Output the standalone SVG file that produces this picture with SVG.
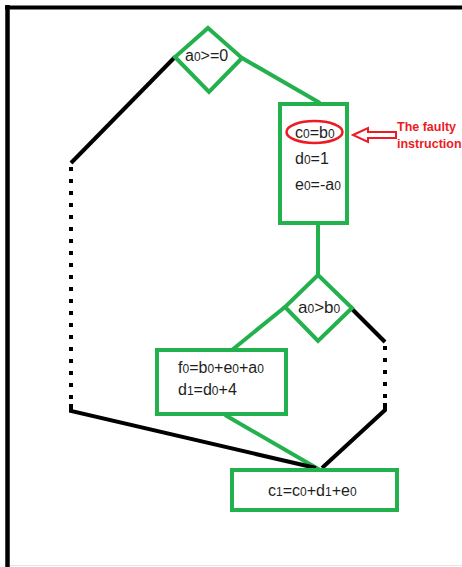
<svg xmlns="http://www.w3.org/2000/svg" width="462" height="567" viewBox="0 0 462 567">
<style>
.g{fill:none;stroke:#22b14c;stroke-width:4}
.gf{fill:#fff;stroke:#22b14c;stroke-width:4}
.k{fill:none;stroke:#000;stroke-width:4}
.kd{fill:none;stroke:#000;stroke-width:4;stroke-dasharray:4 8}
.t{font-family:"Liberation Sans",Arial,sans-serif;font-size:16px;fill:#1e1e1e}
.s{font-size:12px}
.r{font-family:"Liberation Sans",Arial,sans-serif;font-size:12.5px;font-weight:bold;fill:#ed1c24}
</style>
<rect x="0" y="0" width="462" height="567" fill="#fff"/>
<g id="frame">
<line x1="5" y1="7.5" x2="462" y2="7.5" stroke="#000" stroke-width="4"/>
<line x1="7.5" y1="5" x2="7.5" y2="567" stroke="#000" stroke-width="4.5"/>
<line x1="10" y1="565.5" x2="462" y2="565.5" stroke="#e6e6e6" stroke-width="1"/>
</g>
<g id="connectors">
<line class="g" x1="242" y1="58" x2="320" y2="103"/>
<line class="g" x1="318" y1="223" x2="318" y2="275"/>
<line class="g" x1="285" y1="307" x2="232" y2="350"/>
<line class="g" x1="225" y1="415" x2="320" y2="470"/>
<polyline class="k" points="175,57 71,163"/>
<line class="kd" x1="71" y1="167" x2="71" y2="408"/>
<polyline class="k" points="71,404 71,411 316,468"/>
<polyline class="k" points="352,309 385,342"/>
<line class="kd" x1="385" y1="346" x2="385" y2="406"/>
<polyline class="k" points="385,403 385,410 322,468"/>
</g>
<g id="n1">
<polygon class="gf" points="208,28 242,58 209,92 175,57"/>
<text class="t" x="185" y="61">a<tspan class="s">0</tspan>&gt;=0</text>
</g>
<g id="n2">
<rect class="gf" x="280" y="104" width="67" height="119"/>
<text class="t" x="295" y="138">c<tspan class="s">0</tspan>=b<tspan class="s">0</tspan></text>
<text class="t" x="295" y="164">d<tspan class="s">0</tspan>=1</text>
<text class="t" x="295" y="190">e<tspan class="s">0</tspan>=-a<tspan class="s">0</tspan></text>
<ellipse cx="314.5" cy="132" rx="28" ry="11" fill="none" stroke="#ed1c24" stroke-width="2.5"/>
</g>
<g id="note">
<polygon points="353,135 368,128 368,132 396,132 396,138 368,138 368,142" fill="#fff" stroke="#ed1c24" stroke-width="2"/>
<text class="r" x="397" y="131">The faulty</text>
<text class="r" x="397" y="148">instruction</text>
</g>
<g id="n3">
<polygon class="gf" points="318,275 352,308 318,341 285,307"/>
<text class="t" x="298" y="313" style="font-size:17px">a<tspan class="s">0</tspan>&gt;b<tspan class="s">0</tspan></text>
</g>
<g id="n4">
<rect class="gf" x="157" y="350" width="129" height="64"/>
<text class="t" x="178" y="373">f<tspan class="s">0</tspan>=b<tspan class="s">0</tspan>+e<tspan class="s">0</tspan>+a<tspan class="s">0</tspan></text>
<text class="t" x="178" y="395">d<tspan class="s">1</tspan>=d<tspan class="s">0</tspan>+4</text>
</g>
<g id="n5">
<rect class="gf" x="232" y="470" width="165" height="40"/>
<text class="t" x="268" y="496">c<tspan class="s">1</tspan>=c<tspan class="s">0</tspan>+d<tspan class="s">1</tspan>+e<tspan class="s">0</tspan></text>
</g>
</svg>
